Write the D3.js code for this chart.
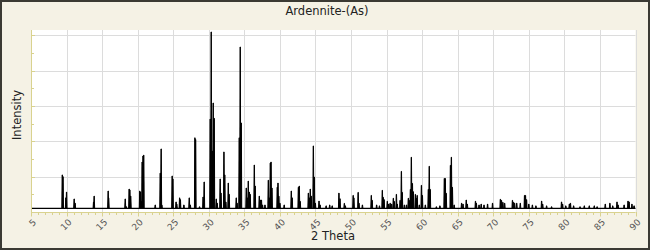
<!DOCTYPE html>
<html><head><meta charset="utf-8">
<script src="https://cdn.jsdelivr.net/npm/d3@7"></script>
<style>
html,body{margin:0;padding:0;background:#f5f2e5;}
svg{display:block;}
</style></head>
<body>
<svg id="c" width="650" height="250"></svg>
<script>
const title = "Ardennite-(As)";
const xLabel = "2 Theta";
const yLabel = "Intensity";
const xTicks = [5,10,15,20,25,30,35,40,45,50,55,60,65,70,75,80,85,90];
const baseLevel = 2.1;
const peakPos = [
9.40,9.50,9.90,10.00,11.07,11.20,13.80,13.88,15.85,15.92,18.25,18.40,18.80,18.90,19.02,
20.30,20.40,20.55,20.63,20.75,20.85,22.47,23.17,23.30,23.40,24.85,24.95,25.40,25.50,25.90,26.00,26.50,27.25,27.40,
28.05,28.15,28.70,29.20,29.35,30.20,30.34,30.48,30.62,30.76,31.05,31.18,31.60,31.72,32.13,32.25,32.40,32.74,32.86,
33.86,33.98,34.28,34.42,34.56,35.27,35.40,35.55,35.70,35.82,36.40,36.52,37.10,37.25,37.40,37.55,37.90,
38.37,38.50,38.65,38.75,38.88,39.63,39.73,39.85,40.00,40.60,41.60,41.72,42.60,42.72,42.85,
44.00,44.15,44.27,44.40,44.70,44.83,44.98,45.50,45.65,46.50,47.00,47.35,48.30,48.45,49.06,49.20,
50.30,50.40,51.00,51.12,51.60,52.85,52.97,53.60,54.00,54.40,54.52,54.65,55.10,55.30,55.50,55.70,55.95,56.08,
56.38,56.50,56.90,57.08,57.20,57.50,57.80,58.06,58.18,58.35,58.48,58.63,58.75,59.05,59.17,59.30,59.60,59.90,60.03,
60.45,60.87,61.00,61.13,62.00,62.50,63.12,63.25,63.38,63.98,64.11,64.25,64.50,65.55,65.75,66.20,66.35,
67.50,67.62,68.00,68.30,68.70,69.20,69.90,71.00,71.15,71.35,71.60,72.70,72.85,73.00,73.30,73.80,
74.40,74.53,74.68,75.00,75.50,76.00,76.80,76.95,77.50,78.20,79.60,79.75,80.20,80.70,80.85,81.30,82.20,82.80,
83.50,84.20,84.60,85.75,86.40,86.80,87.40,87.55,88.40,88.95,89.10,89.50,89.80
];
const peakInt = [
21,20,8,11.3,7.4,5,5.6,9,11.9,8,7.4,3,13,12.5,9,
11.9,11.3,6,28.3,31.7,32.2,4,22,35.7,4,20.4,18.7,5.7,4.5,8,7,4,8,4,
42,41,3,8.5,17,52.6,101.9,34.5,61.7,53,7.4,5,18.7,10.7,34,21,5.7,16.4,10,
8,5,42,93.4,50.4,13.6,8,17.5,11.3,10,26.6,14.7,9,6.8,6.8,4,4,
18,8,27.7,28.3,13.6,14,16.4,9,5,4,11.9,8,14,14.7,6,
10.7,8,13,9,37.4,19.8,5,6.2,4,3.5,4,3.5,10.7,7.5,4.9,3.5,
9.4,8,11.1,5,4,9.4,6.6,4,3.5,12.3,8.3,7,6.1,4.5,5,4.5,7.8,6,
10,4.5,6.6,23,11.1,4,4,7.8,6.6,12.8,31,16.2,11.5,10,7.8,9.4,4,15.1,9.4,
4,12.8,25.9,12.8,3,3.5,19,19,10.6,26.4,31,14,4,5,4.5,6.8,4.5,
6.1,5,4,4.5,4,4.5,5,7.2,6.6,5.5,5,6.6,5.5,5,5,5,
9.4,9.4,7,4.5,4,3.5,6.2,4.5,3.5,3,5.7,4.5,3.5,4.5,5,3.5,3,3.5,
3.5,3.5,3,4.5,5,3.5,5.7,4,4,6.2,5.7,4.5,3.5
];

const svg = d3.select("#c");
const W = 650, H = 250;
const L = 31, R = 635.5, T = 30, B = 212;

// frame
svg.append("rect").attr("x",1).attr("y",1).attr("width",W-2).attr("height",H-2)
  .attr("fill","#f5f2e5").attr("stroke","#3b3a33").attr("stroke-width",2);

const x = d3.scaleLinear().domain([5,90]).range([L,R]);
const y = d3.scaleLinear().domain([0,103]).range([B,T]);

// plot area
svg.append("rect").attr("x",L).attr("y",T).attr("width",R-L).attr("height",B-T).attr("fill","#ffffff");

// grid
const g = svg.append("g");
g.selectAll("line.vg").data(xTicks.filter(d=>d>5)).join("line")
  .attr("x1",d=>Math.round(x(d))+0.5).attr("x2",d=>Math.round(x(d))+0.5)
  .attr("y1",T).attr("y2",B).attr("stroke","#dcdcdc").attr("stroke-width",1);
g.selectAll("line.hg").data([20,40,60,80,100]).join("line")
  .attr("x1",L).attr("x2",R).attr("y1",d=>Math.round(y(d))+0.5).attr("y2",d=>Math.round(y(d))+0.5)
  .attr("stroke","#dcdcdc").attr("stroke-width",1);

// data
const peaks = peakPos.map((p,i)=>({p:p,h:peakInt[i]}));
const line = d3.line().x(d=>x(d[0])).y(d=>y(d[1]));
svg.append("path").attr("d",line([[5,baseLevel],[90,baseLevel]]))
  .attr("stroke","#000").attr("stroke-width",1.2).attr("fill","none");
svg.append("g").selectAll("path").data(peaks).join("path")
  .attr("d",d=>line([[d.p-0.07,baseLevel],[d.p-0.02,d.h],[d.p+0.02,d.h],[d.p+0.07,baseLevel]]))
  .attr("fill","#000").attr("stroke","#000").attr("stroke-width",1).attr("stroke-linejoin","miter");

// axes
const axCol = "#d9d28f";
const xMinor = d3.range(5,91,1);
const xa = svg.append("g").attr("transform",`translate(0,${B})`);
xa.append("line").attr("x1",L).attr("x2",R).attr("y1",0.5).attr("y2",0.5).attr("stroke",axCol);
xa.selectAll("line.mt").data(xMinor).join("line")
  .attr("x1",d=>Math.round(x(d))+0.5).attr("x2",d=>Math.round(x(d))+0.5)
  .attr("y1",0).attr("y2",d=>d%5===0?4.5:3).attr("stroke",axCol);
xa.selectAll("text").data(xTicks).join("text")
  .attr("transform",d=>`translate(${x(d)+2},${7}) rotate(-45)`)
  .attr("text-anchor","end").attr("dy","0.6em")
  .attr("font-family","DejaVu Sans, sans-serif").attr("font-size",9)
  .attr("fill","#555").text(d=>d);

const ya = svg.append("g");
ya.append("line").attr("x1",L+0.5).attr("x2",L+0.5).attr("y1",T).attr("y2",B).attr("stroke",axCol);
ya.selectAll("line.t").data(d3.range(10,101,10)).join("line")
  .attr("x1",L).attr("x2",d=>L+(d%20===0?4:3))
  .attr("y1",d=>Math.round(y(d))+0.5).attr("y2",d=>Math.round(y(d))+0.5).attr("stroke",axCol);

// texts
svg.append("text").attr("x",327).attr("y",15).attr("text-anchor","middle")
  .attr("font-family","DejaVu Sans, sans-serif").attr("font-size",11.5).attr("fill","#222").text(title);
svg.append("text").attr("x",333).attr("y",240).attr("text-anchor","middle")
  .attr("font-family","DejaVu Sans, sans-serif").attr("font-size",11.5).attr("fill","#222").text(xLabel);
svg.append("text").attr("transform","translate(21,115) rotate(-90)").attr("text-anchor","middle")
  .attr("font-family","DejaVu Sans, sans-serif").attr("font-size",11.5).attr("fill","#222").text(yLabel);
</script>
</body></html>
